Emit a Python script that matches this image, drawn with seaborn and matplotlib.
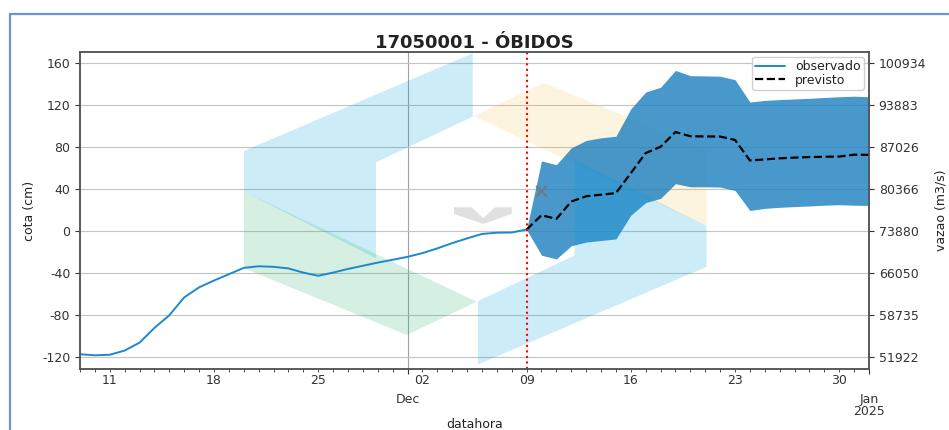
import matplotlib
matplotlib.use("Agg")
import matplotlib.pyplot as plt
import matplotlib.dates as mdates
from matplotlib.ticker import FuncFormatter
from matplotlib.patches import Polygon, Rectangle
import numpy as np
import pandas as pd
import seaborn as sns

# ---- data -------------------------------------------------------------
station_title = "17050001 - ÓBIDOS"

obs_start = "2024-11-09"
obs_cota = [-117, -118, -117.5, -113.5, -106, -92, -80, -63, -53.5, -47,
            -41, -35, -33.5, -34, -35.5, -39.5, -42.5, -39.5, -36, -33,
            -30, -27.3, -24.5, -21, -16.5, -11.5, -7, -2.8, -1.6, -1.4, 1.4]

prev_start = "2024-12-09"
prev_cota = [1.4, 15, 11.5, 28, 33, 34.5, 36, 55, 74, 80, 94, 90, 89.8, 89.7,
             86.5, 67, 68, 69, 69.7, 70.2, 70.5, 70.7, 72.5, 72.3]
prev_upper = [1.4, 66.5, 63, 79, 86, 88.5, 90, 116, 132, 136.5, 152.5, 147.5,
              147.3, 147, 143.7, 122.5, 124, 124.8, 125.4, 126, 126.8, 127.5,
              128, 127.5]
prev_lower = [1.4, -23, -26.5, -14, -10.5, -9, -7.5, 15, 27, 31, 45, 42, 42,
              41.7, 38.5, 19.5, 21.5, 22.5, 23.2, 23.8, 24.5, 25, 24.5, 24.3]

mark_date = ["2024-12-10"]
mark_cota = [38]

cota_ticks = [-120, -80, -40, 0, 40, 80, 120, 160]
vazao_labels = ["51922", "58735", "66050", "73880", "80366", "87026",
                "93883", "100934"]

obs_dates = pd.date_range(obs_start, periods=len(obs_cota), freq="D")
prev_dates = pd.date_range(prev_start, periods=len(prev_cota), freq="D")
obs = pd.DataFrame({"datahora": obs_dates, "cota": obs_cota})
prev = pd.DataFrame({"datahora": prev_dates, "cota": prev_cota,
                     "sup": prev_upper, "inf": prev_lower})

# ---- style ------------------------------------------------------------
sns.set_style("white")
plt.rcParams["font.family"] = ["DejaVu Sans"]
plt.rcParams["text.color"] = "#222222"
plt.rcParams["axes.labelcolor"] = "#222222"
plt.rcParams["xtick.color"] = "#333333"
plt.rcParams["ytick.color"] = "#333333"

fig = plt.figure(figsize=(9.49, 4.30), dpi=100)
ax = fig.add_axes([0.0843, 0.1419, 0.8314, 0.7372])

# forecast uncertainty band
ax.fill_between(prev["datahora"], prev["inf"], prev["sup"],
                color="#1a7fc0", alpha=0.8, lw=0, zorder=1.5)

sns.lineplot(data=obs, x="datahora", y="cota", ax=ax, color="#1f88cc",
             lw=1.4, label="observado", zorder=3)
sns.lineplot(data=prev, x="datahora", y="cota", ax=ax, color="black",
             lw=1.6, linestyle="--", label="previsto", zorder=3)
ax.scatter(pd.to_datetime(mark_date), mark_cota, marker="x", s=60,
           color="#777777", linewidths=1.4, zorder=3)

ax.axvline(pd.Timestamp(prev_start), color="red", ls=":", lw=1.5, zorder=4)

# logo in the background (axes fraction coordinates)
def turned(points, cx=0.5010, cy=0.5050):
    return [(2 * cx - x, 2 * cy - y) for x, y in points]

blue_arm = [(0.2079, 0.6877), (0.4977, 0.9959), (0.4977, 0.7959),
            (0.3752, 0.6521), (0.3752, 0.3492), (0.2079, 0.5593)]
green_arm = [(0.2079, 0.5593), (0.5028, 0.2123), (0.4141, 0.1073),
             (0.2079, 0.3177)]
chevron = [(0.4740, 0.5101), (0.4964, 0.5101), (0.5112, 0.4763),
           (0.5260, 0.5101), (0.5472, 0.5101), (0.5472, 0.4890),
           (0.5112, 0.4574), (0.4740, 0.4890)]
logo = [(blue_arm, "#00a0dc", 0.20, 2.5),
        (turned(blue_arm), "#00a0dc", 0.20, 2.5),
        (green_arm, "#2eb872", 0.20, 2.5),
        (turned(green_arm), "#f5b731", 0.15, 1.2),
        (chevron, "#9a9a9a", 0.30, 2.5)]
for pts, col, a, z in logo:
    ax.add_patch(Polygon(pts, closed=True, transform=ax.transAxes,
                         facecolor=col, edgecolor="none", alpha=a,
                         zorder=z))

# axes limits, ticks and grid
ax.set_xlim(pd.Timestamp("2024-11-09"), pd.Timestamp("2025-01-01"))
ax.set_ylim(-131, 170)
ax.set_yticks(cota_ticks)
ax.set_yticklabels([str(v) for v in cota_ticks])

ax.xaxis.set_major_locator(mdates.MonthLocator())
ax.xaxis.set_minor_locator(mdates.DayLocator())


def major_fmt(x, pos):
    d = mdates.num2date(x)
    return d.strftime("%b\n%Y") if d.month == 1 else d.strftime("%b")


def minor_fmt(x, pos):
    d = mdates.num2date(x)
    return d.strftime("%d") if d.weekday() == 0 else ""


ax.xaxis.set_major_formatter(FuncFormatter(major_fmt))
ax.xaxis.set_minor_formatter(FuncFormatter(minor_fmt))
ax.tick_params(axis="x", which="major", length=3.5, pad=14, labelsize=9,
               bottom=True)
ax.tick_params(axis="x", which="minor", length=2, pad=1.5, labelsize=9,
               bottom=True)
ax.tick_params(axis="y", length=3.5, labelsize=9, left=True)

ax.set_axisbelow(True)
ax.grid(True, axis="y", color="#c4c4c4", lw=0.8)
ax.grid(True, axis="x", which="major", color="#a0a0a0", lw=0.8)

for s in ax.spines.values():
    s.set_color("#555555")
    s.set_linewidth(1.1)

ax.set_title(station_title, fontsize=13, fontweight="bold", pad=2)
ax.set_xlabel("datahora", fontsize=9, labelpad=0.5)
ax.set_ylabel("cota (cm)", fontsize=9)

ax.legend(loc="upper right", fontsize=9, frameon=True, framealpha=0.9,
          edgecolor="#cccccc", fancybox=True, handlelength=2.4,
          labelspacing=0.05, borderpad=0.25, borderaxespad=0.4)

# discharge axis
ax2 = ax.twinx()
ax2.set_ylim(ax.get_ylim())
ax2.set_yticks(cota_ticks)
ax2.set_yticklabels(vazao_labels)
ax2.tick_params(axis="y", length=3.5, labelsize=9, right=True)
ax2.set_ylabel("vazao (m3/s)", fontsize=9, labelpad=6)
for s in ax2.spines.values():
    s.set_color("#555555")
    s.set_linewidth(1.1)

fig.canvas.draw()
for lab in ax.xaxis.get_majorticklabels():
    lab.set_linespacing(0.85)

# frame around the panel
fig.add_artist(Rectangle((10 / 949, -0.1), 2, 1 - 14 / 430 + 0.1,
                         transform=fig.transFigure, fill=False,
                         edgecolor="#6f93d0", lw=1.6))

fig.savefig("out.png", dpi=100)
